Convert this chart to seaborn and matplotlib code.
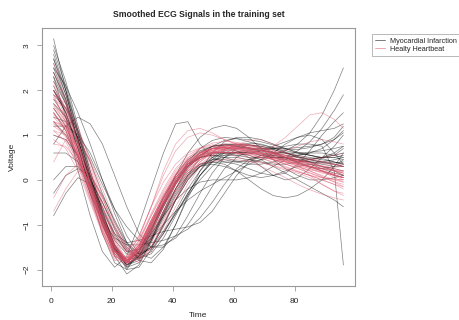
import seaborn as sns
import numpy as np
import pandas as pd
from matplotlib import pyplot as plt, lines

time_points = [1, 5, 9, 13, 17, 21, 25, 29, 33, 37, 41, 45, 49,
               53, 57, 61, 65, 69, 73, 77, 81, 85, 89, 93, 96]

# Myocardial Infarction curves (black)
mi_curves = [
    [3.15, 2.0, 0.8, -0.3, -1.2, -1.85, -2.0, -1.6, -1.0, -0.4, 0.1, 0.45, 0.65, 0.75, 0.78, 0.75, 0.7, 0.62, 0.55, 0.5, 0.45, 0.4, 0.35, 0.3, 0.3],
    [2.8, 2.0, 1.1, 0.2, -0.7, -1.5, -1.95, -1.85, -1.4, -0.8, -0.2, 0.3, 0.6, 0.75, 0.8, 0.78, 0.72, 0.65, 0.6, 0.55, 0.5, 0.48, 0.5, 0.55, 0.6],
    [2.5, 2.1, 1.5, 0.8, 0.0, -0.75, -1.4, -1.8, -1.85, -1.55, -1.0, -0.4, 0.1, 0.45, 0.65, 0.75, 0.78, 0.75, 0.7, 0.65, 0.6, 0.55, 0.5, 0.55, 0.7],
    [1.5, 1.1, 0.4, -0.3, -0.9, -1.3, -1.45, -1.45, -1.4, -1.35, -1.25, -1.1, -0.85, -0.5, -0.1, 0.25, 0.45, 0.55, 0.55, 0.5, 0.45, 0.4, 0.4, 0.45, 0.5],
    [2.3, 1.4, 0.2, -0.8, -1.6, -1.95, -1.7, -1.0, -0.2, 0.6, 1.25, 1.3, 0.8, 0.5, 0.4, 0.4, 0.45, 0.5, 0.5, 0.5, 0.55, 0.6, 0.7, 0.9, 1.1],
    [-0.8, -0.3, 0.05, -0.1, -0.6, -1.2, -1.6, -1.7, -1.5, -1.0, -0.45, 0.0, 0.3, 0.5, 0.6, 0.62, 0.6, 0.55, 0.5, 0.45, 0.42, 0.4, 0.38, 0.35, 0.3],
    [0.0, 0.3, 0.3, 0.0, -0.5, -1.1, -1.55, -1.75, -1.6, -1.2, -0.7, -0.2, 0.2, 0.5, 0.68, 0.78, 0.82, 0.8, 0.72, 0.62, 0.52, 0.45, 0.4, 0.38, 0.4],
    [-0.3, 0.1, 0.25, 0.1, -0.35, -0.9, -1.4, -1.65, -1.55, -1.2, -0.75, -0.3, 0.1, 0.4, 0.6, 0.7, 0.72, 0.68, 0.6, 0.5, 0.4, 0.3, 0.2, 0.1, 0.05],
    [2.0, 1.6, 0.9, 0.0, -0.85, -1.5, -1.8, -1.55, -1.05, -0.5, 0.0, 0.35, 0.55, 0.62, 0.6, 0.55, 0.5, 0.5, 0.55, 0.65, 0.8, 1.05, 1.45, 2.0, 2.5],
    [2.2, 1.7, 0.9, 0.0, -0.85, -1.55, -1.85, -1.6, -1.1, -0.55, -0.05, 0.3, 0.5, 0.58, 0.6, 0.6, 0.62, 0.65, 0.7, 0.75, 0.8, 0.8, 0.75, 0.2, -1.9],
    [1.7, 1.4, 0.8, 0.0, -0.8, -1.45, -1.8, -1.7, -1.3, -0.8, -0.3, 0.1, 0.35, 0.45, 0.45, 0.4, 0.35, 0.35, 0.4, 0.5, 0.65, 0.85, 1.15, 1.55, 1.9],
    [2.6, 1.9, 1.0, 0.1, -0.75, -1.45, -1.85, -1.75, -1.35, -0.85, -0.35, 0.05, 0.3, 0.4, 0.4, 0.35, 0.25, 0.15, 0.1, 0.15, 0.35, 0.65, 1.0, 1.3, 1.5],
    [1.2, 1.2, 1.0, 0.6, 0.0, -0.65, -1.25, -1.65, -1.75, -1.5, -1.0, -0.35, 0.2, 0.6, 0.85, 0.95, 0.95, 0.9, 0.8, 0.7, 0.6, 0.55, 0.5, 0.5, 0.55],
    [2.0, 1.5, 0.8, 0.0, -0.7, -1.2, -1.4, -1.35, -1.25, -1.15, -1.1, -1.05, -0.95, -0.7, -0.3, 0.1, 0.4, 0.55, 0.6, 0.6, 0.55, 0.5, 0.45, 0.4, 0.35],
    [2.4, 1.8, 0.9, -0.1, -1.0, -1.65, -1.95, -1.7, -1.15, -0.5, 0.1, 0.6, 0.95, 1.15, 1.22, 1.15, 0.95, 0.7, 0.45, 0.25, 0.1, 0.0, 0.0, 0.05, 0.1],
    [0.8, 1.2, 1.4, 1.25, 0.8, 0.1, -0.6, -1.2, -1.5, -1.5, -1.25, -0.8, -0.3, 0.15, 0.5, 0.7, 0.78, 0.75, 0.68, 0.6, 0.52, 0.45, 0.4, 0.35, 0.3],
    [2.9, 2.1, 1.1, 0.1, -0.8, -1.5, -1.9, -1.75, -1.3, -0.75, -0.25, 0.1, 0.3, 0.35, 0.3, 0.2, 0.1, 0.05, 0.1, 0.2, 0.3, 0.35, 0.3, 0.2, 0.1],
    [2.7, 1.9, 1.0, 0.05, -0.9, -1.7, -2.1, -1.9, -1.35, -0.7, -0.1, 0.35, 0.62, 0.75, 0.78, 0.75, 0.7, 0.65, 0.62, 0.6, 0.6, 0.62, 0.65, 0.7, 0.75],
    [0.6, 0.6, 0.4, 0.0, -0.5, -1.05, -1.5, -1.75, -1.65, -1.3, -0.8, -0.3, 0.1, 0.4, 0.55, 0.62, 0.62, 0.58, 0.52, 0.48, 0.45, 0.45, 0.5, 0.6, 0.75],
    [1.9, 1.6, 1.1, 0.5, -0.1, -0.65, -1.05, -1.35, -1.5, -1.45, -1.3, -1.0, -0.6, -0.15, 0.25, 0.5, 0.65, 0.7, 0.68, 0.6, 0.5, 0.4, 0.3, 0.25, 0.2],
    [2.1, 1.5, 0.7, -0.15, -0.95, -1.6, -1.85, -1.5, -0.95, -0.4, 0.05, 0.35, 0.5, 0.55, 0.55, 0.55, 0.58, 0.65, 0.75, 0.85, 0.95, 1.05, 1.1, 1.15, 1.25],
    [1.8, 1.4, 0.7, -0.1, -0.9, -1.55, -1.85, -1.6, -1.1, -0.55, -0.05, 0.3, 0.5, 0.6, 0.62, 0.6, 0.55, 0.45, 0.3, 0.15, 0.0, -0.15, -0.3, -0.45, -0.6],
    [1.6, 1.2, 0.5, -0.3, -1.0, -1.55, -1.8, -1.6, -1.2, -0.8, -0.45, -0.2, -0.05, 0.0, 0.0, 0.0, 0.05, 0.15, 0.3, 0.45, 0.55, 0.6, 0.6, 0.55, 0.5],
    [2.3, 1.7, 0.85, -0.05, -0.9, -1.55, -1.85, -1.6, -1.1, -0.55, -0.05, 0.3, 0.5, 0.55, 0.5, 0.42, 0.4, 0.45, 0.6, 0.8, 0.95, 1.0, 0.9, 0.6, 0.35],
    [3.0, 2.2, 1.2, 0.2, -0.7, -1.45, -1.9, -1.8, -1.35, -0.75, -0.2, 0.25, 0.55, 0.7, 0.72, 0.65, 0.5, 0.3, 0.1, 0.0, 0.05, 0.25, 0.5, 0.75, 1.0],
    [1.4, 1.3, 0.95, 0.4, -0.3, -0.95, -1.45, -1.65, -1.5, -1.05, -0.45, 0.1, 0.5, 0.75, 0.88, 0.92, 0.9, 0.85, 0.78, 0.7, 0.62, 0.55, 0.48, 0.4, 0.35],
    [2.5, 1.8, 0.9, 0.0, -0.85, -1.55, -1.9, -1.7, -1.25, -0.7, -0.2, 0.15, 0.35, 0.4, 0.35, 0.2, 0.0, -0.2, -0.35, -0.4, -0.35, -0.2, 0.0, 0.3, 0.6],
    [2.0, 1.5, 0.7, -0.2, -1.0, -1.6, -1.9, -1.65, -1.15, -0.6, -0.1, 0.3, 0.55, 0.7, 0.78, 0.8, 0.78, 0.72, 0.62, 0.5, 0.38, 0.28, 0.25, 0.3, 0.45],
    [1.3, 1.0, 0.5, -0.15, -0.8, -1.35, -1.65, -1.7, -1.5, -1.15, -0.75, -0.35, 0.0, 0.3, 0.5, 0.62, 0.68, 0.7, 0.7, 0.7, 0.72, 0.75, 0.8, 0.9, 1.05],
    [2.7, 2.0, 1.05, 0.1, -0.8, -1.55, -2.0, -1.95, -1.55, -1.0, -0.45, 0.0, 0.3, 0.45, 0.5, 0.5, 0.45, 0.4, 0.35, 0.35, 0.4, 0.45, 0.5, 0.5, 0.45],
    [1.0, 0.9, 0.55, 0.0, -0.65, -1.25, -1.6, -1.55, -1.3, -1.0, -0.7, -0.45, -0.25, -0.1, 0.05, 0.2, 0.35, 0.45, 0.5, 0.5, 0.45, 0.35, 0.25, 0.15, 0.1],
    [2.4, 1.75, 0.9, 0.0, -0.85, -1.55, -1.9, -1.7, -1.2, -0.6, -0.05, 0.4, 0.7, 0.88, 0.95, 0.92, 0.85, 0.78, 0.72, 0.68, 0.68, 0.72, 0.8, 0.95, 1.2],
]

# Healthy heartbeat curves (red)
normal_curves = [
    [1.6, 1.2, 0.5, -0.2, -0.95, -1.6, -1.8, -1.45, -0.95, -0.45, 0.0, 0.35, 0.55, 0.68, 0.72, 0.72, 0.68, 0.6, 0.5, 0.42, 0.35, 0.25, 0.15, 0.1, 0.05],
    [2.0, 1.4, 0.6, -0.3, -1.2, -1.8, -1.75, -1.25, -0.6, -0.05, 0.35, 0.6, 0.72, 0.78, 0.78, 0.74, 0.66, 0.55, 0.45, 0.35, 0.28, 0.22, 0.18, 0.15, 0.12],
    [1.3, 1.15, 0.75, 0.15, -0.6, -1.3, -1.8, -1.7, -1.2, -0.7, -0.2, 0.2, 0.45, 0.6, 0.68, 0.7, 0.7, 0.66, 0.6, 0.52, 0.45, 0.38, 0.3, 0.22, 0.15],
    [2.4, 1.7, 0.8, -0.1, -0.9, -1.5, -1.75, -1.5, -1.0, -0.5, -0.05, 0.3, 0.55, 0.72, 0.8, 0.82, 0.78, 0.7, 0.6, 0.5, 0.4, 0.3, 0.2, 0.05, -0.05],
    [1.0, 0.9, 0.45, -0.2, -0.9, -1.55, -1.9, -1.65, -1.1, -0.55, -0.05, 0.3, 0.5, 0.6, 0.62, 0.6, 0.55, 0.48, 0.4, 0.3, 0.2, 0.1, 0.0, -0.1, -0.2],
    [0.4, 0.9, 0.8, 0.2, -0.6, -1.35, -1.85, -1.75, -1.3, -0.75, -0.25, 0.15, 0.45, 0.62, 0.7, 0.72, 0.7, 0.65, 0.58, 0.5, 0.42, 0.35, 0.3, 0.28, 0.3],
    [-0.7, -0.2, 0.2, 0.1, -0.4, -1.0, -1.55, -1.7, -1.4, -0.9, -0.35, 0.1, 0.4, 0.6, 0.7, 0.72, 0.7, 0.62, 0.52, 0.42, 0.35, 0.3, 0.25, 0.2, 0.15],
    [1.8, 1.6, 1.1, 0.3, -0.6, -1.3, -1.6, -1.3, -0.6, 0.2, 0.8, 1.1, 1.15, 1.05, 0.9, 0.8, 0.7, 0.6, 0.5, 0.4, 0.35, 0.3, 0.25, 0.2, 0.15],
    [1.5, 1.1, 0.4, -0.4, -1.15, -1.7, -1.85, -1.4, -0.8, -0.25, 0.2, 0.5, 0.65, 0.7, 0.68, 0.62, 0.55, 0.5, 0.45, 0.4, 0.3, 0.2, 0.1, 0.0, -0.05],
    [1.9, 1.3, 0.5, -0.35, -1.1, -1.7, -1.85, -1.5, -0.95, -0.4, 0.1, 0.45, 0.6, 0.65, 0.6, 0.52, 0.42, 0.3, 0.18, 0.05, -0.1, -0.22, -0.32, -0.4, -0.45],
    [1.2, 1.0, 0.5, -0.15, -0.85, -1.5, -1.8, -1.6, -1.1, -0.6, -0.1, 0.3, 0.5, 0.6, 0.62, 0.6, 0.58, 0.62, 0.75, 0.95, 1.2, 1.45, 1.5, 1.35, 1.15],
    [1.7, 1.45, 1.0, 0.4, -0.35, -1.1, -1.7, -1.85, -1.5, -0.95, -0.4, 0.05, 0.4, 0.62, 0.75, 0.8, 0.78, 0.72, 0.62, 0.52, 0.42, 0.32, 0.22, 0.12, 0.05],
    [2.2, 1.5, 0.6, -0.25, -1.0, -1.6, -1.75, -1.35, -0.8, -0.3, 0.15, 0.45, 0.62, 0.7, 0.72, 0.7, 0.65, 0.6, 0.55, 0.5, 0.45, 0.38, 0.3, 0.2, 0.1],
    [1.4, 1.1, 0.55, -0.2, -0.95, -1.6, -1.85, -1.55, -1.0, -0.5, -0.05, 0.25, 0.45, 0.58, 0.68, 0.78, 0.88, 0.9, 0.8, 0.6, 0.35, 0.1, -0.1, -0.25, -0.35],
    [0.9, 0.7, 0.2, -0.5, -1.2, -1.75, -1.9, -1.5, -0.9, -0.35, 0.1, 0.4, 0.55, 0.62, 0.65, 0.65, 0.62, 0.55, 0.45, 0.35, 0.25, 0.15, 0.05, 0.0, 0.0],
    [1.6, 1.25, 0.55, -0.3, -1.05, -1.6, -1.75, -1.45, -0.95, -0.5, -0.1, 0.2, 0.35, 0.42, 0.45, 0.45, 0.42, 0.38, 0.32, 0.25, 0.18, 0.1, 0.0, -0.1, -0.15],
    [2.0, 1.55, 0.8, -0.05, -0.8, -1.45, -1.75, -1.6, -1.15, -0.6, -0.1, 0.3, 0.55, 0.7, 0.75, 0.72, 0.65, 0.55, 0.45, 0.4, 0.4, 0.45, 0.5, 0.55, 0.6],
    [1.1, 1.0, 0.6, 0.0, -0.7, -1.4, -1.85, -1.75, -1.25, -0.7, -0.2, 0.2, 0.48, 0.65, 0.75, 0.78, 0.75, 0.68, 0.58, 0.48, 0.38, 0.28, 0.2, 0.12, 0.05],
    [1.3, 1.2, 0.9, 0.45, -0.2, -0.9, -1.5, -1.75, -1.6, -1.15, -0.6, -0.1, 0.3, 0.55, 0.7, 0.78, 0.8, 0.75, 0.65, 0.55, 0.42, 0.3, 0.2, 0.1, 0.0],
    [-0.4, 0.1, 0.35, 0.15, -0.4, -1.05, -1.6, -1.8, -1.5, -1.0, -0.45, 0.0, 0.35, 0.55, 0.65, 0.68, 0.65, 0.6, 0.52, 0.45, 0.38, 0.3, 0.25, 0.2, 0.2],
    [2.6, 1.8, 0.85, -0.1, -0.95, -1.6, -1.85, -1.55, -1.05, -0.5, 0.0, 0.38, 0.6, 0.7, 0.72, 0.68, 0.62, 0.55, 0.48, 0.4, 0.32, 0.25, 0.18, 0.1, 0.05],
    [1.5, 1.15, 0.5, -0.25, -1.0, -1.6, -1.8, -1.5, -1.0, -0.5, -0.05, 0.3, 0.5, 0.6, 0.62, 0.58, 0.5, 0.4, 0.3, 0.22, 0.15, 0.05, -0.1, -0.25, -0.3],
    [1.9, 1.7, 1.2, 0.4, -0.5, -1.2, -1.55, -1.25, -0.6, 0.1, 0.65, 0.95, 1.05, 1.0, 0.9, 0.8, 0.72, 0.65, 0.6, 0.55, 0.5, 0.45, 0.4, 0.35, 0.3],
    [1.3, 0.95, 0.35, -0.4, -1.1, -1.7, -1.85, -1.45, -0.9, -0.4, 0.05, 0.35, 0.52, 0.6, 0.62, 0.6, 0.58, 0.58, 0.6, 0.65, 0.75, 0.85, 0.9, 0.85, 0.8],
    [1.7, 1.3, 0.6, -0.2, -1.0, -1.65, -1.85, -1.5, -0.9, -0.35, 0.1, 0.42, 0.6, 0.7, 0.75, 0.75, 0.72, 0.66, 0.58, 0.5, 0.42, 0.35, 0.28, 0.22, 0.18],
    [1.1, 0.85, 0.3, -0.45, -1.15, -1.7, -1.8, -1.35, -0.75, -0.2, 0.25, 0.55, 0.7, 0.75, 0.72, 0.65, 0.58, 0.52, 0.48, 0.45, 0.42, 0.38, 0.32, 0.25, 0.2],
    [2.1, 1.6, 0.85, 0.0, -0.8, -1.45, -1.8, -1.65, -1.15, -0.6, -0.1, 0.28, 0.52, 0.66, 0.72, 0.74, 0.72, 0.66, 0.56, 0.45, 0.32, 0.2, 0.08, -0.05, -0.15],
    [1.45, 1.2, 0.65, -0.05, -0.8, -1.5, -1.85, -1.6, -1.05, -0.5, 0.0, 0.36, 0.58, 0.7, 0.76, 0.78, 0.76, 0.72, 0.66, 0.6, 0.54, 0.48, 0.42, 0.35, 0.3],
    [0.8, 0.75, 0.4, -0.2, -0.9, -1.55, -1.85, -1.55, -1.0, -0.45, 0.05, 0.4, 0.6, 0.7, 0.72, 0.68, 0.6, 0.5, 0.38, 0.28, 0.18, 0.1, 0.05, 0.02, 0.0],
    [1.85, 1.35, 0.6, -0.25, -1.05, -1.65, -1.8, -1.45, -0.9, -0.35, 0.12, 0.48, 0.7, 0.82, 0.86, 0.84, 0.78, 0.7, 0.62, 0.54, 0.46, 0.4, 0.36, 0.34, 0.35],
    [1.25, 1.05, 0.55, -0.15, -0.9, -1.55, -1.85, -1.6, -1.1, -0.55, -0.05, 0.32, 0.55, 0.66, 0.7, 0.7, 0.66, 0.6, 0.52, 0.44, 0.36, 0.28, 0.2, 0.12, 0.05],
    [1.65, 1.3, 0.7, -0.05, -0.85, -1.5, -1.8, -1.55, -1.0, -0.45, 0.05, 0.4, 0.6, 0.7, 0.72, 0.7, 0.64, 0.56, 0.46, 0.36, 0.26, 0.16, 0.06, -0.04, -0.1],
]

class_names = ["Myocardial Infarction", "Healty Heartbeat"]
class_colors = ["#000000", "#DF536B"]

# long table: one row per (curve, time)
rows = []
for label, curves in zip(class_names, [mi_curves, normal_curves]):
    for i, curve in enumerate(curves):
        for t, v in zip(time_points, curve):
            rows.append((label, f"{label}_{i}", t, v))
df = pd.DataFrame(rows, columns=["group", "curve", "Time", "Voltage"])

sns.set_style("ticks")
plt.rcParams['font.family'] = ['Liberation Sans', 'DejaVu Sans']

fig = plt.figure(figsize=(4.6, 3.2), dpi=100)
ax = fig.add_axes([0.0913, 0.106, 0.6804, 0.8065])

sns.lineplot(data=df, x="Time", y="Voltage", hue="group", units="curve",
             estimator=None, palette=dict(zip(class_names, class_colors)),
             linewidth=0.5, alpha=0.5, legend=False, ax=ax, sort=False)

ax.set_xlim(-2.8, 99.8)
ax.set_ylim(-2.37, 3.39)
ax.set_xticks([0, 20, 40, 60, 80])
ax.set_yticks([-2, -1, 0, 1, 2, 3])
for s in ax.spines.values():
    s.set_color("#999999")
    s.set_linewidth(0.8)
ax.tick_params(length=3.5, width=0.6, color="#999999", labelsize=6, pad=5)
plt.setp(ax.get_yticklabels(), rotation=90, va="center")
ax.set_xlabel("Time", fontsize=6, labelpad=5)
ax.set_ylabel("Voltage", fontsize=6, labelpad=5)
ax.set_title("Smoothed ECG Signals in the training set",
             fontsize=6.2, fontweight="bold", pad=8)

handles = [lines.Line2D([], [], color=c, linewidth=0.6, alpha=0.6) for c in class_colors]
leg = fig.legend(handles, class_names, loc="upper left",
                 bbox_to_anchor=(0.808, 0.894), fontsize=5.2, frameon=True,
                 fancybox=False, handlelength=1.3, borderpad=0.5,
                 labelspacing=0.15, handletextpad=0.7, borderaxespad=0)
leg.get_frame().set_edgecolor("#999999")
leg.get_frame().set_linewidth(0.6)

plt.savefig("out.png", dpi=100)
plt.close()
